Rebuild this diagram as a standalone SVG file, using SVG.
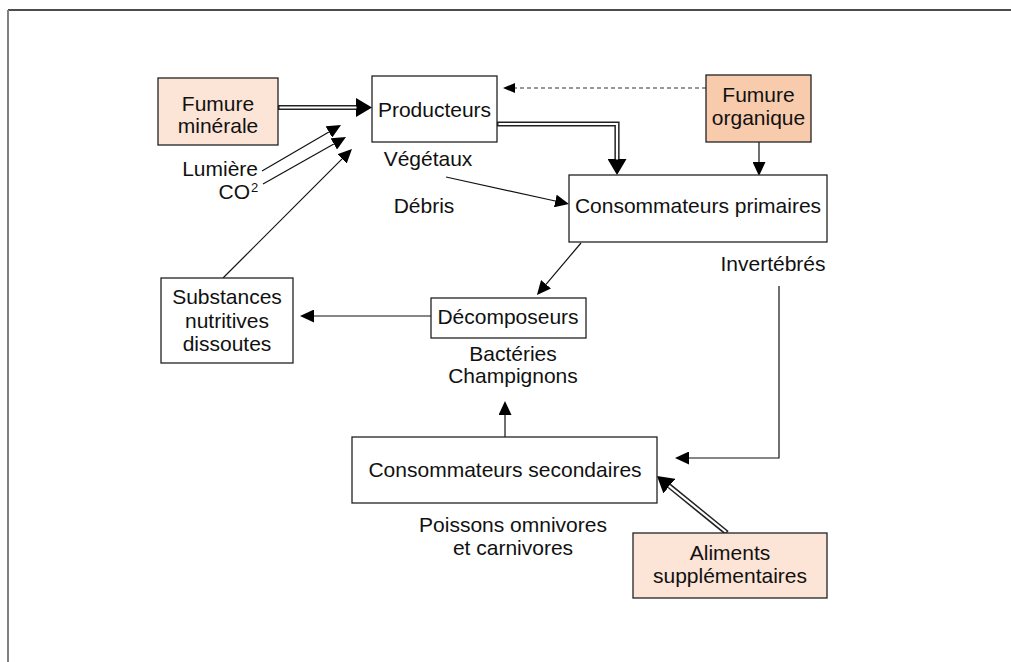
<svg xmlns="http://www.w3.org/2000/svg" width="1011" height="662" viewBox="0 0 1011 662">
<defs>
<style>
text{font-family:"Liberation Sans",Arial,sans-serif;font-size:21px;fill:#111;text-anchor:middle}
.box{fill:#fff;stroke:#222;stroke-width:1.3}
.p1{fill:#FCE4D6}
.p2{fill:#F8CBAD}
.ln{fill:none;stroke:#111;stroke-width:1.2}
.dl{fill:none;stroke:#222;stroke-width:5.2}
.dw{fill:none;stroke:#fff;stroke-width:2.2}
.ds{fill:none;stroke:#333;stroke-width:1.2;stroke-dasharray:4,3}
</style>
<marker id="ah" viewBox="0 0 14 13" refX="0" refY="6.5" markerWidth="14" markerHeight="13" markerUnits="userSpaceOnUse" orient="auto"><path d="M0,0 L14,6.5 L0,13 z" fill="#000"/></marker>
<marker id="ahL" viewBox="0 0 16 19" refX="0" refY="9.5" markerWidth="16" markerHeight="19" markerUnits="userSpaceOnUse" orient="auto"><path d="M0,0 L16,9.5 L0,19 z" fill="#000"/></marker>
<marker id="ahS" viewBox="0 0 12 10" refX="0" refY="5" markerWidth="12" markerHeight="10" markerUnits="userSpaceOnUse" orient="auto"><path d="M0,0 L12,5 L0,10 z" fill="#000"/></marker>
</defs>
<rect width="1011" height="662" fill="#fff"/>
<g id="frame">
<line x1="8" y1="10" x2="1011" y2="10" stroke="#111" stroke-width="1.5"/>
<line x1="8" y1="10" x2="8" y2="662" stroke="#808080" stroke-width="2"/>
</g>
<g id="connectors">
<path class="dl" d="M278,107.5 H356" marker-end="url(#ahL)"/>
<path class="dw" d="M279.5,107.5 H356.5"/>
<path class="dl" d="M497,124 H617 V159" marker-end="url(#ahL)"/>
<path class="dw" d="M498.5,124 H617 V159.5"/>
<path class="dl" d="M727,533 L669.4,486.1" marker-end="url(#ahL)"/>
<path class="dw" d="M726,532 L669,485.8"/>
<path class="ds" d="M706,88 H515" marker-end="url(#ahS)"/>
<path class="ln" d="M759,142 V162" marker-end="url(#ah)"/>
<path class="ln" d="M446,177 L555.3,201" marker-end="url(#ah)"/>
<path class="ln" d="M262,171 L328.9,132" marker-end="url(#ah)"/>
<path class="ln" d="M263,184 L333.8,143.9" marker-end="url(#ah)"/>
<path class="ln" d="M223,278 L342.1,158.9" marker-end="url(#ah)"/>
<path class="ln" d="M581,243 L546,284.3" marker-end="url(#ah)"/>
<path class="ln" d="M431,316 H314" marker-end="url(#ah)"/>
<path class="ln" d="M779,286 V458 H689" marker-end="url(#ah)"/>
<path class="ln" d="M505,437 V415" marker-end="url(#ah)"/>
</g>
<g id="fumure-minerale">
<rect class="box p1" x="158" y="78" width="120" height="67"/>
<text x="218" y="111">Fumure</text>
<text x="218" y="133">minérale</text>
</g>
<g id="producteurs">
<rect class="box" x="372" y="76" width="125" height="66"/>
<text x="434.5" y="117">Producteurs</text>
<text x="428" y="166">Végétaux</text>
</g>
<g id="fumure-organique">
<rect class="box p2" x="706" y="75" width="105" height="67"/>
<text x="758.5" y="102">Fumure</text>
<text x="758.5" y="125">organique</text>
</g>
<g id="lumiere-co2">
<text x="258" y="176" style="text-anchor:end">Lumière</text>
<text x="250" y="199" style="text-anchor:end">CO</text>
<text x="251" y="192" style="text-anchor:start;font-size:13px">2</text>
</g>
<g id="debris">
<text x="424" y="213">Débris</text>
</g>
<g id="consommateurs-primaires">
<rect class="box" x="569" y="175" width="258" height="67"/>
<text x="698" y="213">Consommateurs primaires</text>
<text x="773" y="271">Invertébrés</text>
</g>
<g id="substances">
<rect class="box" x="161" y="278" width="132" height="85"/>
<text x="227" y="304">Substances</text>
<text x="227" y="327.5">nutritives</text>
<text x="227" y="351">dissoutes</text>
</g>
<g id="decomposeurs">
<rect class="box" x="431" y="298" width="155" height="40"/>
<text x="508" y="324">Décomposeurs</text>
<text x="513" y="361">Bactéries</text>
<text x="513" y="383">Champignons</text>
</g>
<g id="consommateurs-secondaires">
<rect class="box" x="352" y="437" width="305" height="66"/>
<text x="505" y="477">Consommateurs secondaires</text>
<text x="513" y="532">Poissons omnivores</text>
<text x="513" y="555">et carnivores</text>
</g>
<g id="aliments">
<rect class="box p1" x="633" y="533" width="194" height="65"/>
<text x="730" y="560">Aliments</text>
<text x="730" y="583">supplémentaires</text>
</g>
</svg>
